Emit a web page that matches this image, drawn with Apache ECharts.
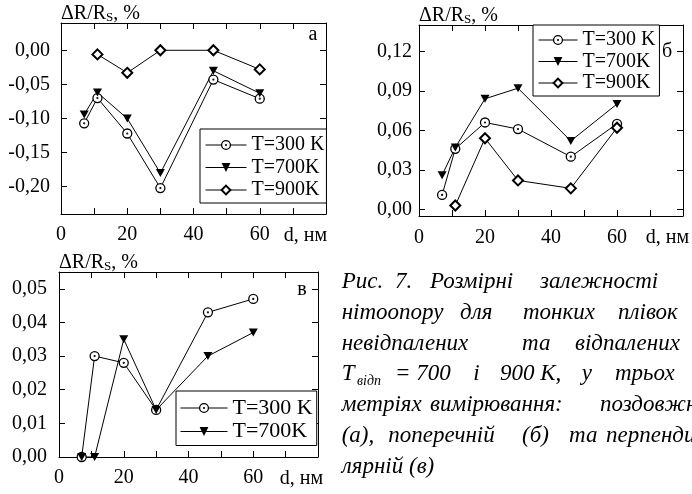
<!DOCTYPE html>
<html>
<head>
<meta charset="utf-8">
<script src="https://cdn.jsdelivr.net/npm/echarts@6/dist/echarts.min.js"></script>
<style>
  html, body { margin: 0; padding: 0; background: #fff; }
  #chart { width: 692px; height: 494px; }
</style>
</head>
<body>
<div id="chart"></div>
<script>
  // film thickness d, nm
  const dAll = [7, 11, 20, 30, 46, 60];
  const d900 = [11, 20, 30, 46, 60];

  // (а) longitudinal geometry, ΔR/Rs %
  const a300 = [-0.107, -0.070, -0.122, -0.202, -0.043, -0.071];
  const a700 = [-0.094, -0.062, -0.100, -0.180, -0.030, -0.063];
  const a900 = [-0.006, -0.033, 0.000, 0.000, -0.028];

  // (б) transverse geometry
  const b300 = [0.011, 0.046, 0.066, 0.061, 0.040, 0.065];
  const b700 = [0.026, 0.047, 0.084, 0.092, 0.052, 0.080];
  const b900 = [0.003, 0.054, 0.022, 0.016, 0.062];

  // (в) perpendicular geometry
  const v300 = [0.000, 0.030, 0.028, 0.014, 0.043, 0.047];
  const v700 = [0.000, 0.000, 0.035, 0.014, 0.030, 0.037];

  const xTicks = [10, 20, 30, 40, 50, 60, 70];
  const xLabels = [0, 20, 40, 60];
  const yTicksA = [-0.2, -0.15, -0.1, -0.05, 0];
  const yTicksB = [0, 0.03, 0.06, 0.09, 0.12];
  const yTicksV = [0, 0.01, 0.02, 0.03, 0.04, 0.05];
  const names = ["T=300 K", "T=700K", "T=900K"];

  const FONT = '"Liberation Serif", "Times New Roman", serif';
  const pair = (xs, ys) => xs.map((x, i) => [x, ys[i]]);
  const fmt = (v) => v.toFixed(2).replace(".", ",");

  const marks = {
    circle: {
      symbol: "path://M10,0A10,10,0,1,1,10,20A10,10,0,1,1,10,0ZM10,9A1,1,0,1,1,10,11A1,1,0,1,1,10,9Z",
      symbolSize: 9,
      itemStyle: { color: "#fff", borderColor: "#000", borderWidth: 1.3 },
    },
    tri: {
      symbol: "path://M0,0L10,0L5,9Z",
      symbolSize: [9, 8],
      itemStyle: { color: "#000", borderWidth: 0 },
    },
    diamond: {
      symbol: "diamond",
      symbolSize: 10,
      itemStyle: { color: "#fff", borderColor: "#000", borderWidth: 2 },
    },
  };

  function series(name, g, xs, ys, kind) {
    return Object.assign(
      {
        name: name,
        type: "line",
        xAxisIndex: g * 2,
        yAxisIndex: g * 2,
        data: pair(xs, ys),
        showAllSymbol: true,
        lineStyle: { color: "#000", width: 1 },
        emphasis: { disabled: true },
        z: 3,
      },
      marks[kind]
    );
  }

  function xAxes(g, margin) {
    const base = {
      gridIndex: g,
      type: "value",
      min: 0,
      max: 80,
      axisLine: { onZero: false, lineStyle: { color: "#000", width: 1 } },
      axisTick: { inside: true, length: 6, customValues: xTicks, lineStyle: { color: "#000" } },
      splitLine: { show: false },
    };
    return [
      Object.assign({}, base, {
        position: "bottom",
        axisLabel: { customValues: xLabels, margin: margin, color: "#000", fontFamily: FONT, fontSize: 20 },
      }),
      Object.assign({}, base, { position: "top", axisLabel: { show: false } }),
    ];
  }

  function yAxes(g, min, max, ticks, margin) {
    const base = {
      gridIndex: g,
      type: "value",
      min: min,
      max: max,
      axisLine: { onZero: false, lineStyle: { color: "#000", width: 1 } },
      axisTick: { inside: true, length: 6, customValues: ticks, lineStyle: { color: "#000" } },
      splitLine: { show: false },
    };
    return [
      Object.assign({}, base, {
        position: "left",
        name: "{a|ΔR/R}{s|S}{a|, %}",
        nameLocation: "end",
        nameGap: -1,
        nameTextStyle: {
          align: "left",
          verticalAlign: "bottom",
          fontFamily: FONT,
          rich: {
            a: { fontFamily: FONT, fontSize: 20, color: "#000", lineHeight: 20, verticalAlign: "top" },
            s: { fontFamily: FONT, fontSize: 13, color: "#000", lineHeight: 13, padding: [9, 0, 0, 0], verticalAlign: "bottom" },
          },
        },
        axisLabel: { customValues: ticks, margin: margin, color: "#000", fontFamily: FONT, fontSize: 20, formatter: fmt },
      }),
      Object.assign({}, base, { position: "right", axisLabel: { show: false } }),
    ];
  }

  function legend(left, top, names, padding, itemWidth, gap, fontSize) {
    return {
      orient: "vertical",
      left: left,
      top: top,
      data: names,
      padding: padding,
      itemGap: gap,
      itemWidth: itemWidth,
      itemHeight: 11,
      borderColor: "#000",
      borderWidth: 1,
      backgroundColor: "#fff",
      selectedMode: false,
      itemStyle: { borderWidth: "inherit" },
      lineStyle: { width: "inherit" },
      textStyle: { fontFamily: FONT, fontSize: fontSize, color: "#000" },
    };
  }

  function txt(x, y, s, size, italic, align) {
    return {
      type: "text",
      x: x,
      y: y,
      silent: true,
      style: {
        text: s,
        fill: "#000",
        font: (italic ? "italic " : "") + size + "px " + FONT,
        align: align || "left",
        verticalAlign: "middle",
      },
    };
  }

  // caption, justified word by word (y = text middle)
  const captionLines = [
    [282, [[341.7, "Рис."], [395, "7."], [430, "Розмірні"], [540, "залежності"], [700, "маг-"]]],
    [312.8, [[341.7, "нітоопору"], [460, "для"], [523, "тонких"], [618, "плівок"]]],
    [343.6, [[341.7, "невідпалених"], [522, "та"], [575, "відпалених"]]],
    [374.4, [[395, "= 700"], [473.3, "і"], [500, "900 К,"], [581.7, "у"], [615, "трьох"]]],
    [405.2, [[341.7, "метріях"], [430, "вимірювання:"], [600, "поздовжній"]]],
    [436, [[341.7, "(а),"], [388.3, "поперечній"], [522, "(б)"], [569, "та"], [606, "перпендику-"]]],
    [466.8, [[341.7, "лярній (в)"]]],
  ];
  const graphic = [];
  captionLines.forEach(([y, words]) => words.forEach(([x, w]) => graphic.push(txt(x, y, w, 23, true))));
  graphic.push(txt(341.7, 374.4, "T", 23, true));
  graphic.push(txt(357, 381, "відп", 14, true));
  graphic.push(txt(313, 35, "а", 20, false, "center"));
  graphic.push(txt(667, 52, "б", 20, false, "center"));
  graphic.push(txt(302, 290, "в", 20, false, "center"));
  graphic.push(txt(305.5, 236, "d, нм", 20, false, "center"));
  graphic.push(txt(667.5, 238, "d, нм", 20, false, "center"));
  graphic.push(txt(301.5, 479, "d, нм", 20, false, "center"));

  const chart = echarts.init(document.getElementById("chart"), null, { renderer: "canvas" });
  chart.setOption({
    animation: false,
    backgroundColor: "#fff",
    textStyle: { fontFamily: FONT },
    grid: [
      { left: 61, top: 23, width: 265, height: 191 },
      { left: 419, top: 25, width: 264, height: 191 },
      { left: 59, top: 272, width: 259, height: 185 },
    ],
    xAxis: [].concat(xAxes(0, 11), xAxes(1, 12), xAxes(2, 11)),
    yAxis: [].concat(
      yAxes(0, -0.24, 0.04, yTicksA, 11),
      yAxes(1, -0.005, 0.14, yTicksB, 7),
      yAxes(2, 0, 0.055, yTicksV, 12)
    ),
    legend: [
      legend(200, 129, names, [6, 2, 3, 5], 41, 2.5, 20),
      legend(533, 25, names, [5, 4, 3, 5], 39, 1.5, 20),
      legend(176, 391, names.slice(0, 2), [6, 4, 3, 4], 47, 1.5, 22),
    ],
    series: [
      series(names[0], 0, dAll, a300, "circle"),
      series(names[1], 0, dAll, a700, "tri"),
      series(names[2], 0, d900, a900, "diamond"),
      series(names[0], 1, dAll, b300, "circle"),
      series(names[1], 1, dAll, b700, "tri"),
      series(names[2], 1, d900, b900, "diamond"),
      series(names[0], 2, dAll, v300, "circle"),
      series(names[1], 2, dAll, v700, "tri"),
    ],
    graphic: graphic,
  });
</script>
</body>
</html>
